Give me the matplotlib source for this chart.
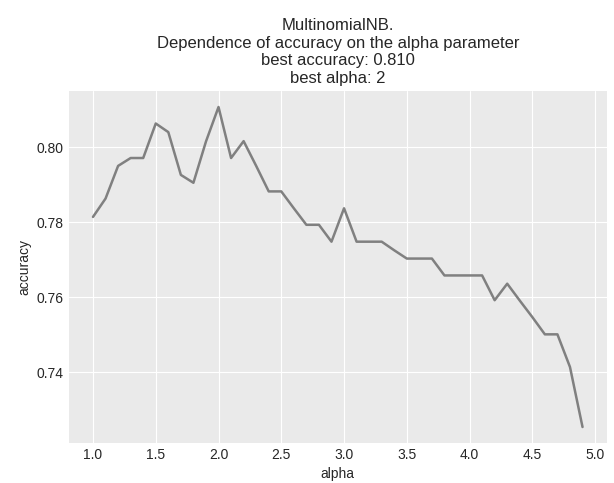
import numpy as np
import matplotlib
matplotlib.use('Agg')
import matplotlib.pyplot as plt

#Data
alphas = [1.0, 1.1, 1.2, 1.3, 1.4, 1.5, 1.6, 1.7, 1.8, 1.9,
          2.0, 2.1, 2.2, 2.3, 2.4, 2.5, 2.6, 2.7, 2.8, 2.9,
          3.0, 3.1, 3.2, 3.3, 3.4, 3.5, 3.6, 3.7, 3.8, 3.9,
          4.0, 4.1, 4.2, 4.3, 4.4, 4.5, 4.6, 4.7, 4.8, 4.9]
accuracy = [0.7814, 0.7863, 0.7950, 0.7971, 0.7971, 0.8063, 0.8040, 0.7926, 0.7905, 0.8015,
            0.8107, 0.7971, 0.8016, 0.7950, 0.7882, 0.7882, 0.7837, 0.7793, 0.7793, 0.7748,
            0.7837, 0.7748, 0.7748, 0.7748, 0.7725, 0.7703, 0.7703, 0.7703, 0.7658, 0.7658,
            0.7658, 0.7658, 0.7592, 0.7636, 0.7591, 0.7547, 0.7501, 0.7501, 0.7414, 0.7254]
best_acc = 0.810
best_alpha = 2

#Style
plt.style.use('seaborn-v0_8-darkgrid')
plt.rcParams['font.family'] = ['Liberation Sans', 'DejaVu Sans']
plt.rcParams['axes.facecolor'] = '#EAEAEA'

fig, ax = plt.subplots(figsize=(6.14, 4.83), dpi=100)
fig.subplots_adjust(left=0.1116, right=0.9886, top=0.8116, bottom=0.0828)

ax.plot(alphas, accuracy, color='gray', linewidth=1.8)
ax.set_title('MultinomialNB.\nDependence of accuracy on the alpha parameter\n'
             'best accuracy: {:.3f}\nbest alpha: {}'.format(best_acc, best_alpha))
ax.set_xlabel('alpha')
ax.set_ylabel('accuracy')
ax.set_xticks(np.arange(1.0, 5.01, 0.5))
ax.set_yticks([0.74, 0.76, 0.78, 0.80])

plt.savefig('out.png', dpi=100)
